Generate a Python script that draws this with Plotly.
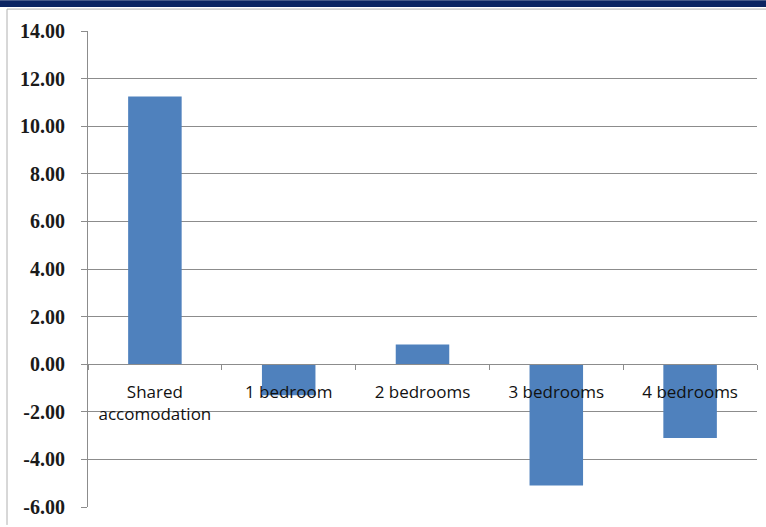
import plotly.graph_objects as go

categories = ["Shared<br>accomodation", "1 bedroom", "2 bedrooms", "3 bedrooms", "4 bedrooms"]
values = [11.25, -1.3, 0.83, -5.1, -3.1]
tick_vals = [-6, -4, -2, 0, 2, 4, 6, 8, 10, 12, 14]
tick_text = ["-6.00", "-4.00", "-2.00", "0.00", "2.00", "4.00", "6.00", "8.00", "10.00", "12.00", "14.00"]

W, H = 766, 527
L, R, T, B = 88, 9, 31, 18
ph = H - T - B
pw = W - L - R

fig = go.Figure()
fig.add_trace(go.Bar(x=categories, y=values, marker=dict(color="#4F81BD", line=dict(width=0)), width=0.4))

def py(px):
    return 1 - (px - T) / ph

def pxx(px):
    return (px - L) / pw

fig.update_layout(
    width=W, height=H,
    margin=dict(l=L, r=R, t=T, b=B),
    paper_bgcolor="white", plot_bgcolor="white",
    showlegend=False,
    font=dict(family="Liberation Serif", size=15, color="#222222"),
    xaxis=dict(
        anchor="free", position=6/20,
        showline=True, linecolor="#8c8c8c", linewidth=1,
        ticks="outside", tickson="boundaries", ticklen=5, tickcolor="#8c8c8c",
        showgrid=False, ticklabelstandoff=12,
        tickfont=dict(family="Open Sans", size=17, color="#111111"),
    ),
    yaxis=dict(
        range=[-6, 14], tickvals=tick_vals, ticktext=tick_text,
        showgrid=True, gridcolor="#8c8c8c", gridwidth=1,
        showline=True, linecolor="#8c8c8c", linewidth=1,
        ticks="outside", ticklen=6, tickcolor="#8c8c8c",
        zeroline=False, ticklabelstandoff=12,
        tickfont=dict(family="Liberation Serif", size=20, color="#1a1a1a", weight="bold"),
    ),
    shapes=[
        dict(type="rect", xref="paper", yref="paper",
             x0=pxx(0), x1=pxx(W), y0=py(7), y1=py(0),
             fillcolor="#0B2462", line=dict(width=0), layer="above"),
        dict(type="line", xref="paper", yref="paper",
             x0=pxx(7), x1=pxx(7), y0=py(9), y1=py(H),
             line=dict(color="#b0b0b0", width=1)),
        dict(type="line", xref="paper", yref="paper",
             x0=pxx(7), x1=pxx(W), y0=py(9), y1=py(9),
             line=dict(color="#b0b0b0", width=1)),
    ],
)

fig.write_html("out.html", config={"displayModeBar": False},
               post_script="document.body.style.margin='0';")
